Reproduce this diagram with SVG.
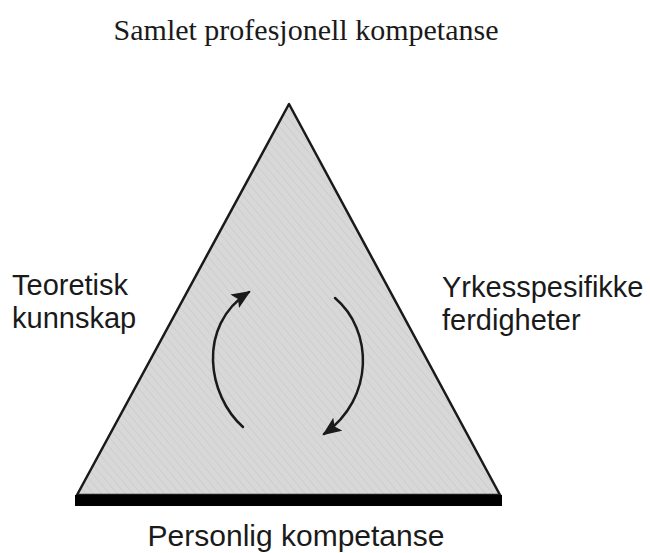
<svg xmlns="http://www.w3.org/2000/svg" width="650" height="553" viewBox="0 0 650 553">
<style>
.serif{font-family:"Liberation Serif","Times New Roman",serif;fill:#1a1a1a}
.sans{font-family:"Liberation Sans",Arial,sans-serif;fill:#1a1a1a;font-size:29px}
.arc{fill:none;stroke:#1a1a1a;stroke-width:2.5;stroke-linecap:round}
</style>
<defs>
<marker id="ah" markerUnits="userSpaceOnUse" markerWidth="22" markerHeight="18" refX="17" refY="8" orient="auto">
<path d="M0,0 L19,8 L0,16 L4,8 Z" fill="#1a1a1a"/>
</marker>
<pattern id="tex" width="6" height="6" patternUnits="userSpaceOnUse" patternTransform="rotate(-40)">
<rect width="6" height="6" fill="#d8d8d8"/>
<line x1="0" y1="0" x2="0" y2="6" stroke="#cbcbcb" stroke-width="1.5"/>
</pattern>
</defs>
<rect width="650" height="553" fill="#ffffff"/>
<text class="serif" x="306" y="40" font-size="30" text-anchor="middle">Samlet profesjonell kompetanse</text>
<g id="triangle">
<polygon points="289,104 77,495 500,495" fill="url(#tex)" stroke="#1a1a1a" stroke-width="2.5" stroke-linejoin="round"/>
<rect x="75" y="495" width="427" height="11" fill="#000"/>
</g>
<g id="connectors">
<path class="arc" d="M243,427 C208,396 196,326 249,292" marker-end="url(#ah)"/>
<path class="arc" d="M335,298 C373,330 375,398 324,434" marker-end="url(#ah)"/>
</g>
<g id="teoretisk">
<text class="sans" x="12" y="295">Teoretisk</text>
<text class="sans" x="12" y="328">kunnskap</text>
</g>
<g id="yrkes">
<text class="sans" x="442" y="297">Yrkesspesifikke</text>
<text class="sans" x="442" y="330">ferdigheter</text>
</g>
<g id="personlig">
<text class="sans" x="296" y="546" style="font-size:30px" text-anchor="middle">Personlig kompetanse</text>
</g>
</svg>
